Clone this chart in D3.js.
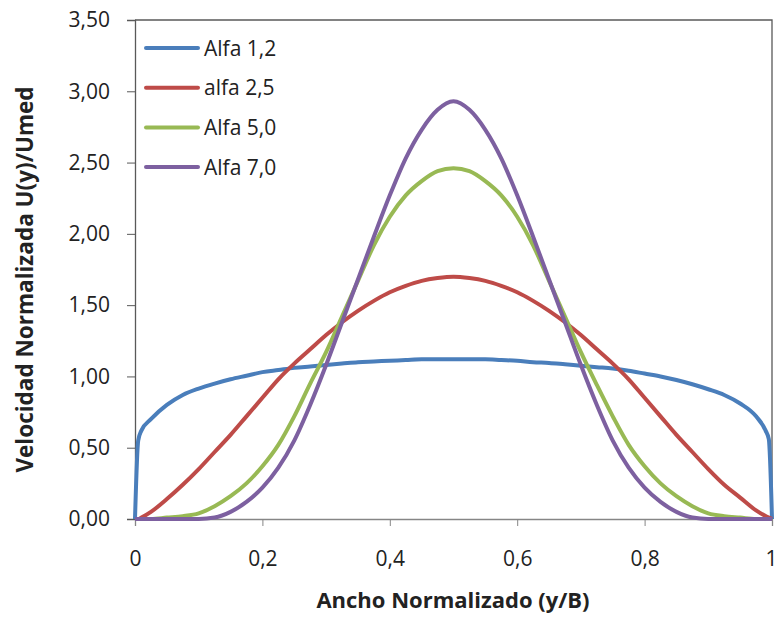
<!DOCTYPE html>
<html lang="es">
<head>
<meta charset="UTF-8">
<title>Velocidad normalizada</title>
<script src="https://d3js.org/d3.v7.min.js"></script>
<style>
  body { margin: 0; background: #fff; }
  text { font-family: "Open Sans", Lato, sans-serif; fill: #222; }
</style>
</head>
<body>
<div id="chart"></div>
<script>
    var width = 777, height = 617;
    var margin = {top: 20, right: 5, bottom: 98, left: 135};

    // y/B positions (extra points near the walls)
    var xs = [0, 0.005, 0.01, 0.025, 0.05, 0.075, 0.1, 0.125, 0.15, 0.175, 0.2, 0.225, 0.25, 0.275, 0.3, 0.325, 0.35, 0.375, 0.4, 0.425, 0.45, 0.475,
              0.5, 0.525, 0.55, 0.575, 0.6, 0.625, 0.65, 0.675, 0.7, 0.725, 0.75, 0.775, 0.8, 0.825, 0.85, 0.875, 0.9, 0.925, 0.95, 0.975, 0.99, 0.995, 1];

    var alfa12 = [0, 0.55, 0.62, 0.70, 0.80, 0.87, 0.915, 0.95, 0.98, 1.005, 1.03, 1.045, 1.06, 1.07, 1.08, 1.09, 1.10, 1.105, 1.11, 1.115, 1.12, 1.12,
                  1.12, 1.12, 1.12, 1.115, 1.11, 1.10, 1.095, 1.085, 1.075, 1.065, 1.055, 1.04, 1.02, 1.0, 0.975, 0.945, 0.91, 0.87, 0.81, 0.72, 0.62, 0.56, 0];
    var alfa25 = [0, 0, 0.01, 0.05, 0.14, 0.24, 0.35, 0.47, 0.59, 0.72, 0.85, 0.98, 1.09, 1.19, 1.29, 1.38, 1.46, 1.53, 1.59, 1.635, 1.67, 1.69,
                  1.70, 1.69, 1.67, 1.635, 1.59, 1.53, 1.46, 1.38, 1.29, 1.19, 1.09, 0.98, 0.85, 0.72, 0.59, 0.47, 0.35, 0.24, 0.15, 0.06, 0.02, 0.01, 0];
    var alfa50 = [0, 0, 0, 0, 0.01, 0.02, 0.04, 0.09, 0.16, 0.25, 0.37, 0.52, 0.72, 0.95, 1.17, 1.42, 1.67, 1.92, 2.12, 2.27, 2.37, 2.44,
                  2.46, 2.44, 2.37, 2.27, 2.12, 1.92, 1.67, 1.42, 1.17, 0.94, 0.72, 0.52, 0.37, 0.25, 0.16, 0.09, 0.04, 0.02, 0.01, 0, 0, 0, 0];
    var alfa70 = [0, 0, 0, 0, 0, 0, 0, 0.01, 0.05, 0.12, 0.22, 0.36, 0.55, 0.80, 1.08, 1.38, 1.68, 1.98, 2.27, 2.53, 2.73, 2.87,
                  2.93, 2.87, 2.73, 2.53, 2.27, 1.98, 1.68, 1.38, 1.08, 0.80, 0.55, 0.36, 0.22, 0.12, 0.05, 0.01, 0, 0, 0, 0, 0, 0, 0];

    var names = ["Alfa 1,2", "alfa 2,5", "Alfa 5,0", "Alfa 7,0"];
    var colors = ["#4A7EBB", "#BE4B48", "#98B954", "#7D60A0"];
    var yTicks = [0, 0.5, 1, 1.5, 2, 2.5, 3, 3.5];
    var xTicks = [0, 0.2, 0.4, 0.6, 0.8, 1];

    var series = [alfa12, alfa25, alfa50, alfa70].map(function(vals, i) {
        return {name: names[i], color: colors[i], points: xs.map(function(x, j) { return [x, vals[j]]; })};
    });

    var svg = d3.select("#chart").append("svg")
        .attr("width", width)
        .attr("height", height);

    var x = d3.scaleLinear().domain([0, 1]).range([margin.left, width - margin.right]);
    var y = d3.scaleLinear().domain([0, 3.5]).range([height - margin.bottom, margin.top]);

    var comma = function(d, n) { return d3.format("." + n + "f")(d).replace(".", ","); };

    // frame of the plot area (top and right)
    svg.append("path")
        .attr("d", "M" + x(0) + "," + y(3.5) + "H" + x(1) + "V" + y(0))
        .attr("fill", "none")
        .attr("stroke", "#595959")
        .attr("stroke-width", 1.3);

    // y axis
    var yAxis = svg.append("g")
        .attr("transform", "translate(" + x(0) + ",0)")
        .call(d3.axisLeft(y).tickValues(yTicks).tickSize(8).tickPadding(17).tickFormat(function(d) { return comma(d, 2); }));
    yAxis.select(".domain").attr("stroke", "#595959").attr("stroke-width", 1.3);
    yAxis.selectAll(".tick line").attr("stroke", "#595959");
    yAxis.selectAll("text").style("font-size", "21px").attr("fill", "#222");

    // x axis
    var xAxis = svg.append("g")
        .attr("transform", "translate(0," + y(0) + ")")
        .call(d3.axisBottom(x).tickValues(xTicks).tickSize(7).tickPadding(25).tickFormat(function(d) { return d === 0 || d === 1 ? d : comma(d, 1); }));
    xAxis.select(".domain").attr("stroke", "#868686").attr("stroke-width", 1.3);
    xAxis.selectAll(".tick line").attr("stroke", "#868686");
    xAxis.selectAll("text").style("font-size", "21px").attr("fill", "#222");
    // keep the last label inside the window
    xAxis.selectAll(".tick text").filter(function(d) { return d === 1; }).attr("text-anchor", "end").attr("dx", 5);

    // curves
    var line = d3.line()
        .x(function(d) { return x(d[0]); })
        .y(function(d) { return y(d[1]); })
        .curve(d3.curveMonotoneX);

    svg.append("g").selectAll("path")
        .data(series)
        .enter()
        .append("path")
        .attr("d", function(d) { return line(d.points); })
        .attr("fill", "none")
        .attr("stroke", function(d) { return d.color; })
        .attr("stroke-width", 4)
        .attr("stroke-linejoin", "round");

    // legend
    var legend = svg.append("g").selectAll("g")
        .data(series)
        .enter()
        .append("g")
        .attr("transform", function(d, i) { return "translate(146," + (48 + i * 39.7) + ")"; });
    legend.append("line")
        .attr("x1", 0).attr("x2", 52)
        .attr("stroke", function(d) { return d.color; })
        .attr("stroke-width", 4)
        .attr("stroke-linecap", "round");
    legend.append("text")
        .attr("x", 58)
        .attr("dy", "0.36em")
        .style("font-size", "21px")
        .text(function(d) { return d.name; });

    // axis titles
    svg.append("text")
        .attr("transform", "translate(25," + y(1.68) + ") rotate(-90)")
        .attr("text-anchor", "middle")
        .attr("dy", "0.35em")
        .style("font-size", "22.5px")
        .style("font-weight", "bold")
        .text("Velocidad Normalizada U(y)/Umed");

    svg.append("text")
        .attr("x", 453)
        .attr("y", 600)
        .attr("text-anchor", "middle")
        .attr("dy", "0.35em")
        .style("font-size", "22px")
        .style("font-weight", "bold")
        .text("Ancho Normalizado (y/B)");
</script>
</body>
</html>
